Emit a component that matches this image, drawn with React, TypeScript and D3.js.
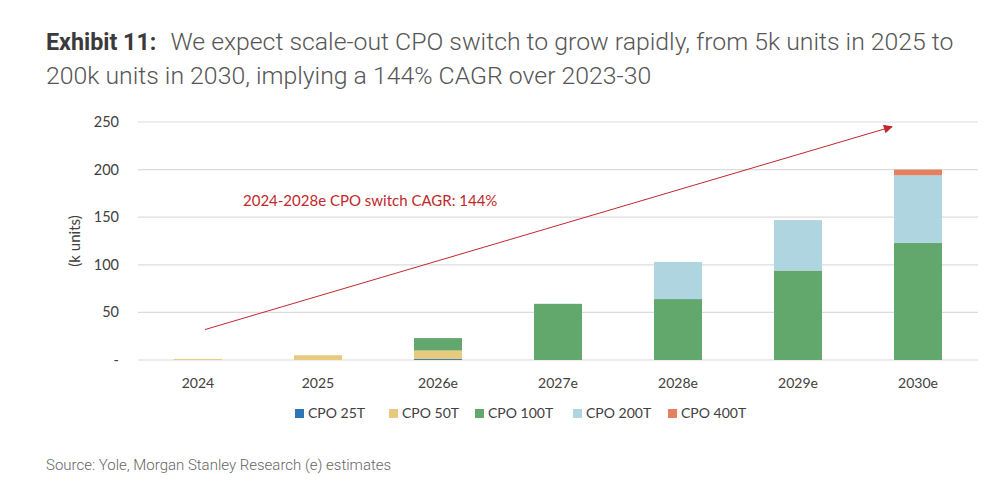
import { useEffect, useRef } from 'react';
import * as d3 from 'd3';

const width = 998;
const height = 494;

const years = ['2024', '2025', '2026e', '2027e', '2028e', '2029e', '2030e'];
const seriesNames = ['CPO 25T', 'CPO 50T', 'CPO 100T', 'CPO 200T', 'CPO 400T'];
const cpo25 = [0, 0, 1, 0, 0, 0, 0];
const cpo50 = [1, 5, 9, 0, 0, 0, 0];
const cpo100 = [0, 0, 13, 59, 64, 94, 123];
const cpo200 = [0, 0, 0, 0, 39, 53, 71];
const cpo400 = [0, 0, 0, 0, 0, 0, 6];
const yTicks = [0, 50, 100, 150, 200, 250];
const colors = ['#2e75b6', '#e8ca7f', '#62a86d', '#afd5e1', '#e2805f'];

const textColor = '#404040';
const gridColor = '#dcdcdc';
const red = '#c0282b';

export default function App() {
  const ref = useRef<SVGSVGElement>(null);

  useEffect(() => {
    const svg = d3.select(ref.current);
    svg.selectAll('*').remove();

    // title
    const title = svg
      .append('text')
      .attr('x', 46)
      .attr('y', 50)
      .attr('font-family', 'Roboto')
      .attr('font-size', 24.8)
      .attr('font-weight', 300)
      .attr('fill', '#555');
    title
      .append('tspan')
      .attr('font-weight', 'bold')
      .attr('font-size', 23.3)
      .attr('fill', '#3a3a3a')
      .text('Exhibit 11:');
    title.append('tspan').attr('dx', 14).text('We expect scale-out CPO switch to grow rapidly, from 5k units in 2025 to');
    svg
      .append('text')
      .attr('x', 46)
      .attr('y', 84)
      .attr('font-family', 'Roboto')
      .attr('font-size', 24.8)
      .attr('font-weight', 300)
      .attr('fill', '#555')
      .text('200k units in 2030, implying a 144% CAGR over 2023-30');

    const x = d3.scaleBand().domain(years).range([138, 978]).paddingInner(0.6).paddingOuter(0.3);
    const y = d3.scaleLinear().domain([0, 250]).range([360, 122]);

    const g = svg.append('g').attr('font-family', 'Lato, Open Sans, sans-serif');

    // gridlines
    g.selectAll('.grid')
      .data(yTicks)
      .join('line')
      .attr('x1', 138)
      .attr('x2', 978)
      .attr('y1', (d) => y(d))
      .attr('y2', (d) => y(d))
      .attr('stroke', gridColor)
      .attr('stroke-width', 1.2);

    g.selectAll('.ytick')
      .data(yTicks)
      .join('text')
      .attr('x', 119)
      .attr('y', (d) => y(d) + 5)
      .attr('text-anchor', 'end')
      .attr('font-size', 14.5)
      .attr('fill', textColor)
      .text((d) => (d === 0 ? '-' : String(d)));

    g.append('text')
      .attr('transform', `translate(80,${y(125)}) rotate(-90)`)
      .attr('text-anchor', 'middle')
      .attr('font-size', 15)
      .attr('fill', textColor)
      .text('(k units)');

    // stacked bars
    const rows = years.map((yr, i) => ({
      year: yr,
      'CPO 25T': cpo25[i],
      'CPO 50T': cpo50[i],
      'CPO 100T': cpo100[i],
      'CPO 200T': cpo200[i],
      'CPO 400T': cpo400[i],
    }));
    const stack = d3.stack<any>().keys(seriesNames)(rows);

    g.selectAll('.layer')
      .data(stack)
      .join('g')
      .attr('fill', (_, i) => colors[i])
      .selectAll('rect')
      .data((d) => d)
      .join('rect')
      .attr('x', (d) => x(d.data.year)!)
      .attr('width', x.bandwidth())
      .attr('y', (d) => y(d[1]))
      .attr('height', (d) => y(d[0]) - y(d[1]));

    g.selectAll('.xtick')
      .data(years)
      .join('text')
      .attr('x', (d) => x(d)! + x.bandwidth() / 2)
      .attr('y', 388)
      .attr('text-anchor', 'middle')
      .attr('font-size', 14)
      .attr('fill', textColor)
      .text((d) => d);

    // CAGR arrow
    svg
      .append('defs')
      .append('marker')
      .attr('id', 'arrow')
      .attr('viewBox', '0 0 10 10')
      .attr('refX', 9)
      .attr('refY', 5)
      .attr('markerWidth', 11)
      .attr('markerHeight', 9)
      .attr('markerUnits', 'userSpaceOnUse')
      .attr('orient', 'auto')
      .append('path')
      .attr('d', 'M0,0L10,5L0,10Z')
      .attr('fill', red);

    g.append('line')
      .attr('x1', x('2024')! + x.bandwidth() / 2 + 7)
      .attr('y1', y(32))
      .attr('x2', x('2030e')! - 2)
      .attr('y2', y(245))
      .attr('stroke', red)
      .attr('stroke-width', 1)
      .attr('marker-end', 'url(#arrow)');

    g.append('text')
      .attr('x', 243)
      .attr('y', 206)
      .attr('font-size', 15)
      .attr('fill', red)
      .text('2024-2028e CPO switch CAGR: 144%');

    // legend
    const legendX = [295, 389, 475, 573, 668];
    const leg = g
      .selectAll('.legend')
      .data(seriesNames)
      .join('g')
      .attr('transform', (_, i) => `translate(${legendX[i]},413)`);
    leg.append('rect').attr('width', 9).attr('height', 9).attr('y', -4).attr('fill', (_, i) => colors[i]);
    leg
      .append('text')
      .attr('x', 13)
      .attr('y', 5)
      .attr('font-size', 14)
      .attr('fill', textColor)
      .text((d) => d);

    svg
      .append('text')
      .attr('x', 46)
      .attr('y', 470)
      .attr('font-family', 'Roboto')
      .attr('font-size', 15)
      .attr('font-weight', 300)
      .attr('fill', '#666')
      .text('Source: Yole, Morgan Stanley Research (e) estimates');
  }, []);

  return (
    <div style={{ position: 'fixed', left: 0, top: 0 }}>
      <svg ref={ref} width={width} height={height} style={{ display: 'block', background: '#fff' }} />
    </div>
  );
}
